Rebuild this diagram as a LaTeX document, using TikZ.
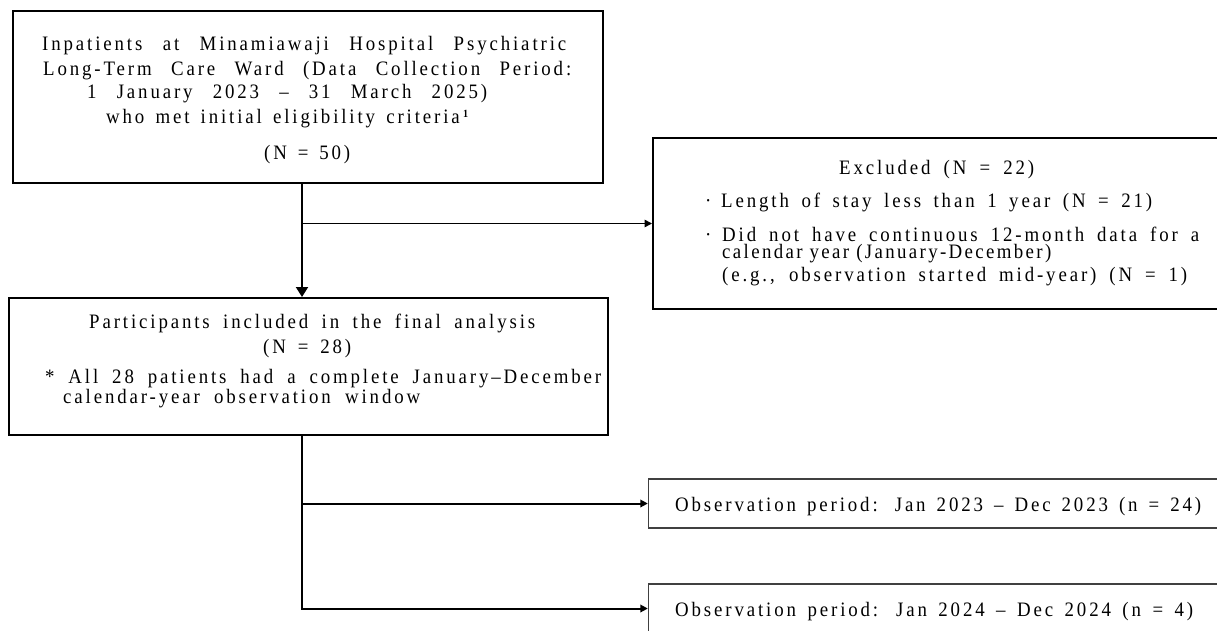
\documentclass[tikz,border=0pt]{standalone}
\usepackage{fontspec}
\setmainfont{Liberation Serif}
\newfontfamily\lsfont[FakeStretch=0.92,LetterSpace=14]{Liberation Serif}
\usetikzlibrary{arrows.meta}
\newcommand\jline[2]{\makebox[#1][s]{#2}}
\tikzset{
  box/.style={draw=black, line width=2pt, rectangle, inner sep=0pt},
  obsbox/.style={draw=black!75, line width=1.4pt, rectangle, inner sep=0pt},
  txt/.style={inner sep=0pt, anchor=base west, font=\lsfont\fontsize{20.5}{24}\selectfont},
  conn/.style={line width=2pt},
  arr/.style={conn, -{Triangle[length=7.5pt,width=7.5pt]}},
  bigarr/.style={conn, -{Triangle[length=10pt,width=12pt]}},
}
\begin{document}
\begin{tikzpicture}[x=1pt,y=-1pt]
\useasboundingbox (0,0) rectangle (1217,630);
\clip (0,0) rectangle (1217,630);
\fill[white] (0,0) rectangle (1217,630);

% boxes
\node[box, minimum width=590pt, minimum height=172pt] (b1) at (308,97) {};
\node[box, minimum width=599pt, minimum height=137pt] (b2) at (308.5,366.5) {};
\node[box, minimum width=577pt, minimum height=171pt] (exc) at (941.5,223.5) {};
\node[obsbox, minimum width=581pt, minimum height=49pt] (o1) at (939,503.5) {};
\node[obsbox, minimum width=581pt, minimum height=49pt] (o2) at (939,608.5) {};

% texts box 1
\node[txt] (b1a) at (42,50) {\jline{524pt}{Inpatients at Minamiawaji Hospital Psychiatric}};
\node[txt] (b1b) at (43,75) {\jline{528pt}{Long-Term Care Ward (Data Collection Period:}};
\node[txt] (b1c) at (87,98) {\jline{400pt}{1 January 2023 – 31 March 2025)}};
\node[txt] (b1d) at (106,123) {\jline{362pt}{who met initial eligibility criteria\,\raisebox{6pt}{\fontsize{11}{11}\selectfont\bfseries 1}}};
\node[txt] (b1e) at (264,159) {\jline{86pt}{(N = 50)}};

% texts box 2
\node[txt] (b2a) at (89,328) {\jline{446pt}{Participants included in the final analysis}};
\node[txt] (b2b) at (263,353) {\jline{88pt}{(N = 28)}};
\node[txt] (b2c) at (45,383) {\jline{556pt}{* All 28 patients had a complete January–December}};
\node[txt] (b2d) at (63,403) {\jline{357pt}{calendar-year observation window}};

% texts excluded
\node[txt] (e1) at (839,174) {\jline{195pt}{Excluded (N = 22)}};
\node[txt] (e2b) at (705,207) {·};
\node[txt] (e2) at (721,207) {\jline{431pt}{Length of stay less than 1 year (N = 21)}};
\node[txt] (e3b) at (705,241) {·};
\node[txt] (e3) at (722,241) {\jline{477pt}{Did not have continuous 12-month data for a}};
\node[txt] (e4) at (722,258) {\addfontfeature{LetterSpace=11.5}calendar year (January-December)};
\node[txt] (e5) at (722,281) {\jline{465pt}{(e.g., observation started mid-year) (N = 1)}};

% texts observation boxes
\node[txt] (o1t) at (675,511) {\jline{526pt}{Observation period: Jan 2023 – Dec 2023 (n = 24)}};
\node[txt] (o2t) at (675,616) {\jline{518pt}{Observation period: Jan 2024 – Dec 2024 (n = 4)}};

% connectors
\coordinate (trunk) at (302,0);
\draw[bigarr] (b1.south -| trunk) -- (b2.north -| trunk);
\draw[arr, line width=1.6pt] (trunk |- exc.west) -- (exc.west);
\draw[arr] (b2.south -| trunk) |- (o2.west);
\draw[arr] (trunk |- o1.west) -- (o1.west);
\end{tikzpicture}
\end{document}
